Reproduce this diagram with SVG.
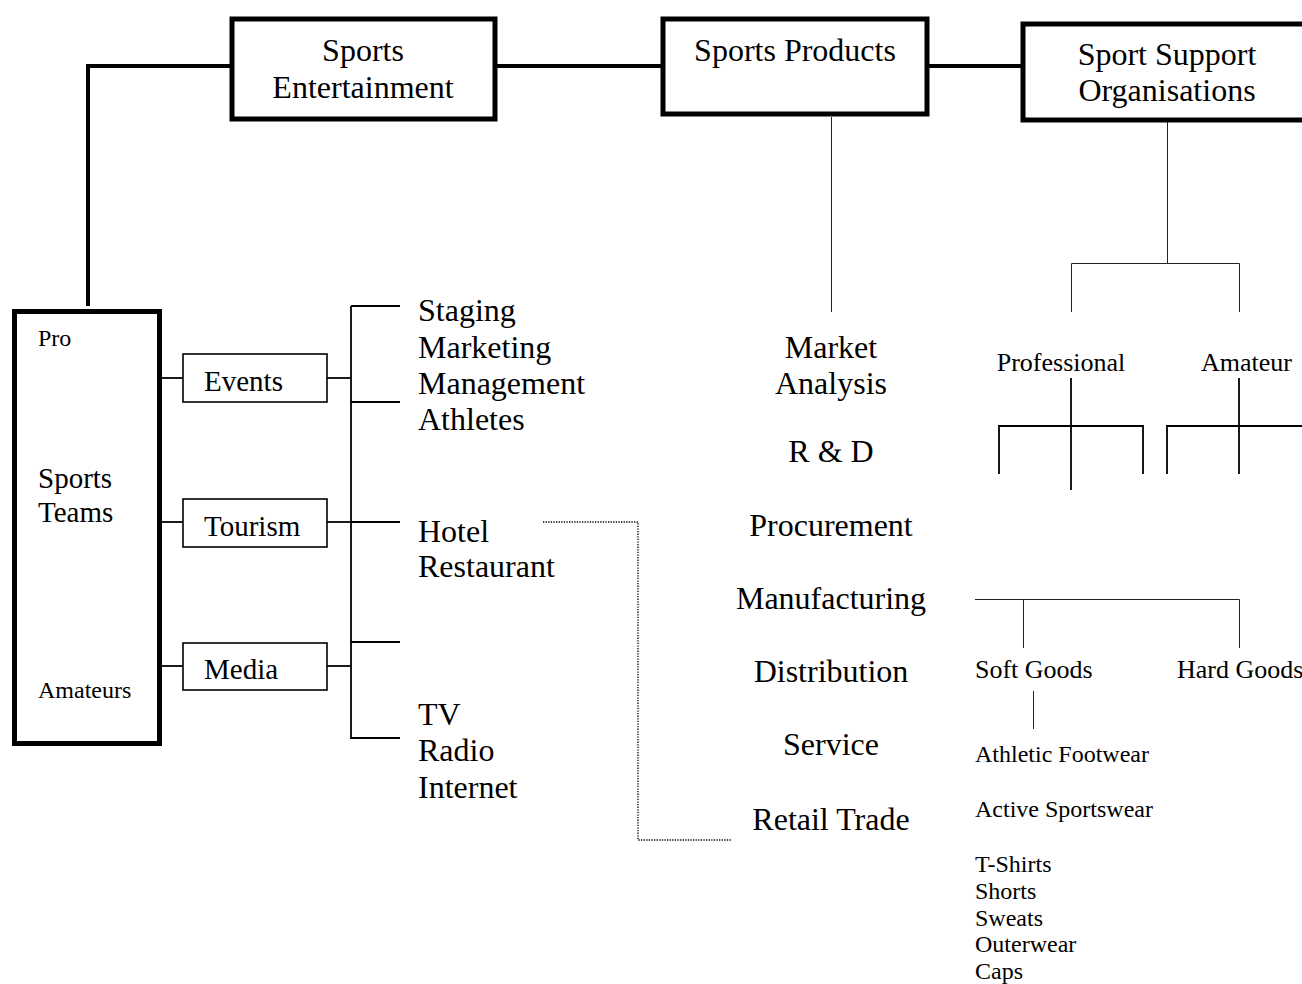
<svg xmlns="http://www.w3.org/2000/svg" width="1302" height="984" viewBox="0 0 1302 984">
<style>
text{font-family:"Liberation Serif","Times New Roman",serif;fill:#000}
.big{font-size:32px}
.mid{font-size:29px}
.sm{font-size:24px}
.pr{font-size:26px}
.thick{fill:#fff;stroke:#000;stroke-width:5}
.box{fill:#fff;stroke:#000;stroke-width:1.6}
.c4{fill:none;stroke:#000;stroke-width:4}
.c2{fill:none;stroke:#000;stroke-width:1.8}
.c1{fill:none;stroke:#222;stroke-width:1}
.dot{fill:none;stroke:#000;stroke-width:1.3;stroke-dasharray:1.3 1.3}
</style>
<rect width="1302" height="984" fill="#fff"/>
<g id="connectors">
<polyline class="c4" points="230,66 88,66 88,306"/>
<line class="c4" x1="497" y1="66" x2="663" y2="66"/>
<line class="c4" x1="927" y1="66" x2="1022" y2="66"/>
<line class="c1" x1="831.5" y1="117" x2="831.5" y2="312"/>
<line class="c1" x1="1167.5" y1="122" x2="1167.5" y2="263"/>
<polyline class="c1" points="1071.5,312 1071.5,263.5 1239.5,263.5 1239.5,312"/>
<line class="c2" x1="1071" y1="378" x2="1071" y2="490"/>
<polyline class="c2" points="999,474 999,426 1143,426 1143,474"/>
<line class="c2" x1="1239" y1="378" x2="1239" y2="474"/>
<polyline class="c2" points="1167,474 1167,426 1302,426"/>
<line class="c2" x1="162" y1="378" x2="183" y2="378"/>
<line class="c2" x1="162" y1="522" x2="183" y2="522"/>
<line class="c2" x1="162" y1="666" x2="183" y2="666"/>
<line class="c2" x1="327" y1="378" x2="351" y2="378"/>
<line class="c2" x1="327" y1="522" x2="351" y2="522"/>
<line class="c2" x1="327" y1="666" x2="351" y2="666"/>
<line class="c2" x1="351" y1="306" x2="351" y2="739"/>
<line class="c2" x1="351" y1="306" x2="400" y2="306"/>
<line class="c2" x1="351" y1="402" x2="400" y2="402"/>
<line class="c2" x1="351" y1="522" x2="400" y2="522"/>
<line class="c2" x1="351" y1="642" x2="400" y2="642"/>
<line class="c2" x1="351" y1="738" x2="400" y2="738"/>
<polyline class="dot" points="543,522 638,522 638,840 732,840"/>
<polyline class="c1" points="975,599.5 1239.5,599.5 1239.5,648"/>
<line class="c1" x1="1023.5" y1="599" x2="1023.5" y2="648"/>
<line class="c1" x1="1033.5" y1="691" x2="1033.5" y2="729"/>
</g>
<g id="sports-entertainment">
<rect class="thick" x="232" y="19" width="263" height="100"/>
<text class="big" x="363" y="61" text-anchor="middle">Sports</text>
<text class="big" x="363" y="98" text-anchor="middle">Entertainment</text>
</g>
<g id="sports-products">
<rect class="thick" x="663" y="19" width="264" height="95"/>
<text class="big" x="795" y="61" text-anchor="middle">Sports Products</text>
</g>
<g id="sport-support">
<rect class="thick" x="1023" y="24" width="300" height="96"/>
<text class="big" x="1167" y="65" text-anchor="middle">Sport Support</text>
<text class="big" x="1167" y="101" text-anchor="middle">Organisations</text>
</g>
<g id="professional">
<text class="pr" x="1061" y="371" text-anchor="middle">Professional</text>
</g>
<g id="amateur">
<text class="pr" x="1201" y="371">Amateur</text>
</g>
<g id="sports-teams">
<rect class="thick" x="14.5" y="311.5" width="145" height="432"/>
<text class="sm" x="38" y="346">Pro</text>
<text class="mid" x="38" y="488">Sports</text>
<text class="mid" x="38" y="522">Teams</text>
<text class="sm" x="38" y="698">Amateurs</text>
</g>
<g id="events">
<rect class="box" x="183" y="354" width="144" height="48"/>
<text class="mid" x="204" y="391">Events</text>
</g>
<g id="tourism">
<rect class="box" x="183" y="499" width="144" height="48"/>
<text class="mid" x="204" y="536">Tourism</text>
</g>
<g id="media">
<rect class="box" x="183" y="643" width="144" height="47"/>
<text class="mid" x="204" y="679">Media</text>
</g>
<g id="events-items">
<text class="big" x="418" y="321">Staging</text>
<text class="big" x="418" y="358">Marketing</text>
<text class="big" x="418" y="394">Management</text>
<text class="big" x="418" y="430">Athletes</text>
</g>
<g id="tourism-items">
<text class="big" x="418" y="542">Hotel</text>
<text class="big" x="418" y="577">Restaurant</text>
</g>
<g id="media-items">
<text class="big" x="418" y="725">TV</text>
<text class="big" x="418" y="761">Radio</text>
<text class="big" x="418" y="798">Internet</text>
</g>
<g id="value-chain">
<text class="big" x="831" y="358" text-anchor="middle">Market</text>
<text class="big" x="831" y="394" text-anchor="middle">Analysis</text>
<text class="big" x="831" y="462" text-anchor="middle">R &amp; D</text>
<text class="big" x="831" y="536" text-anchor="middle">Procurement</text>
<text class="big" x="831" y="609" text-anchor="middle">Manufacturing</text>
<text class="big" x="831" y="682" text-anchor="middle">Distribution</text>
<text class="big" x="831" y="755" text-anchor="middle">Service</text>
<text class="big" x="831" y="830" text-anchor="middle">Retail Trade</text>
</g>
<g id="soft-goods">
<text class="pr" x="975" y="678">Soft Goods</text>
</g>
<g id="hard-goods">
<text class="pr" x="1177" y="678">Hard Goods</text>
</g>
<g id="soft-goods-items">
<text class="sm" x="975" y="762">Athletic Footwear</text>
<text class="sm" x="975" y="817">Active Sportswear</text>
<text class="sm" x="975" y="872">T-Shirts</text>
<text class="sm" x="975" y="899">Shorts</text>
<text class="sm" x="975" y="926">Sweats</text>
<text class="sm" x="975" y="952">Outerwear</text>
<text class="sm" x="975" y="979">Caps</text>
</g>
</svg>
